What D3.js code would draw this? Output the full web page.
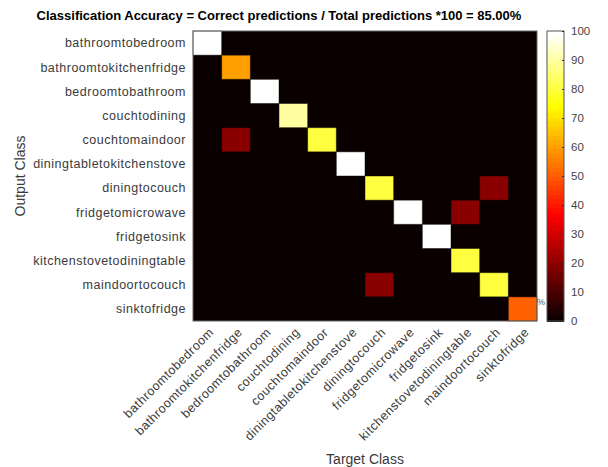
<!DOCTYPE html>
<html>
<head>
<meta charset="utf-8">
<script src="https://cdn.jsdelivr.net/npm/d3@7"></script>
<style>
  body { margin: 0; background: #fff; }
  svg { display: block; font-family: "Liberation Sans", Arial, Helvetica, sans-serif; }
</style>
</head>
<body>
<svg id="chart" width="608" height="467"></svg>
<script>
const classes = ["bathroomtobedroom","bathroomtokitchenfridge","bedroomtobathroom","couchtodining","couchtomaindoor","diningtabletokitchenstove","diningtocouch","fridgetomicrowave","fridgetosink","kitchenstovetodiningtable","maindoortocouch","sinktofridge"];
// rows = output class, columns = target class (percent)
const row0  = [100,0,0,0,0,0,0,0,0,0,0,0];
const row1  = [0,60,0,0,0,0,0,0,0,0,0,0];
const row2  = [0,0,100,0,0,0,0,0,0,0,0,0];
const row3  = [0,0,0,90,0,0,0,0,0,0,0,0];
const row4  = [0,20,0,0,80,0,0,0,0,0,0,0];
const row5  = [0,0,0,0,0,100,0,0,0,0,0,0];
const row6  = [0,0,0,0,0,0,80,0,0,0,20,0];
const row7  = [0,0,0,0,0,0,0,100,0,20,0,0];
const row8  = [0,0,0,0,0,0,0,0,100,0,0,0];
const row9  = [0,0,0,0,0,0,0,0,0,80,0,0];
const row10 = [0,0,0,0,0,0,20,0,0,0,80,0];
const row11 = [0,0,0,0,0,0,0,0,0,0,0,50];
const matrix = [row0,row1,row2,row3,row4,row5,row6,row7,row8,row9,row10,row11];
const colorbarTicks = [0,10,20,30,40,50,60,70,80,90,100];
const titleText = "Classification Accuracy = Correct predictions / Total predictions *100 = 85.00%";

// MATLAB "hot" colormap, 64 levels
function hot(v) {
  const n = 64;
  let i = Math.min(n - 1, Math.floor(v / 100 * n)) + 1; // 1-based
  const r = Math.min(1, i / 24);
  const g = Math.max(0, Math.min(1, (i - 24) / 24));
  const b = Math.max(0, Math.min(1, (i - 48) / 16));
  return d3.rgb(r * 255, g * 255, b * 255).toString();
}

const svg = d3.select("#chart");
const mL = 193, mR = 537, mT = 31, mB = 321;

const x = d3.scaleBand().domain(classes).range([mL, mR]).padding(0);
const y = d3.scaleBand().domain(classes).range([mT, mB]).padding(0);

const cells = [];
matrix.forEach((row, ri) => row.forEach((v, ci) => cells.push({r: classes[ri], c: classes[ci], v})));

// background (value 0 colour) to avoid seams
svg.append("rect").attr("x", mL).attr("y", mT).attr("width", mR - mL).attr("height", mB - mT)
  .attr("fill", hot(0));

svg.append("g").selectAll("rect").data(cells.filter(d => d.v > 0)).join("rect")
  .attr("x", d => x(d.c)).attr("y", d => y(d.r))
  .attr("width", x.bandwidth()).attr("height", y.bandwidth())
  .attr("fill", d => hot(d.v))
  .attr("stroke", "rgba(0,0,0,0.45)")
  .attr("stroke-width", 1);

// axes box
svg.append("rect").attr("x", mL).attr("y", mT).attr("width", mR - mL).attr("height", mB - mT)
  .attr("fill", "none").attr("stroke", "#666").attr("stroke-width", 1);

// y labels
svg.append("g").selectAll("text").data(classes).join("text")
  .attr("x", mL - 7).attr("y", d => y(d) + y.bandwidth() / 2)
  .attr("dy", "0.35em").attr("text-anchor", "end")
  .attr("font-size", 12.5).attr("letter-spacing", 0.5).attr("fill", "#3a3a3a").text(d => d);

// x labels rotated
svg.append("g").selectAll("text").data(classes).join("text")
  .attr("transform", d => `translate(${x(d) + x.bandwidth() / 2 + 4},${mB + 9}) rotate(-45)`)
  .attr("text-anchor", "end").attr("dy", "0.35em")
  .attr("font-size", 12.5).attr("letter-spacing", 0.5).attr("fill", "#3a3a3a").text(d => d);

// axis titles
svg.append("text").attr("x", (mL + mR) / 2).attr("y", 464)
  .attr("text-anchor", "middle").attr("font-size", 14).attr("fill", "#3a3a3a").text("Target Class");
svg.append("text").attr("transform", `translate(25,${(mT + mB) / 2}) rotate(-90)`)
  .attr("text-anchor", "middle").attr("font-size", 14).attr("fill", "#3a3a3a").text("Output Class");

// title
svg.append("text").attr("x", 279).attr("y", 20).attr("text-anchor", "middle")
  .attr("font-size", 13).attr("font-weight", "bold").attr("fill", "#000").text(titleText);

// stray percent glyph near last cell
svg.append("text").attr("x", 537).attr("y", 305).attr("font-size", 9).attr("fill", "#555").text("%");

// colorbar
const cbL = 547, cbR = 564;
const cy = d3.scaleLinear().domain([0, 100]).range([mB, mT]);
const steps = d3.range(64);
svg.append("g").attr("shape-rendering", "crispEdges").selectAll("rect").data(steps).join("rect")
  .attr("x", cbL).attr("width", cbR - cbL)
  .attr("y", i => cy((i + 1) * 100 / 64))
  .attr("height", i => cy(i * 100 / 64) - cy((i + 1) * 100 / 64) + 0.6)
  .attr("fill", i => hot((i + 0.5) * 100 / 64));
svg.append("rect").attr("x", cbL).attr("y", mT).attr("width", cbR - cbL).attr("height", mB - mT)
  .attr("fill", "none").attr("stroke", "#555").attr("stroke-width", 1);
const cbAxis = d3.axisRight(cy).tickValues(colorbarTicks).tickSize(0).tickPadding(7);
const cbg = svg.append("g").attr("transform", `translate(${cbR},0)`).call(cbAxis);
cbg.select(".domain").remove();
cbg.selectAll("text").attr("font-size", 11.5).attr("fill", "#444").attr("font-family", "Liberation Sans, Arial, sans-serif");
cbg.selectAll(".tick").append("line").attr("x1", -2).attr("x2", 0).attr("stroke", "#333");
</script>
</body>
</html>
